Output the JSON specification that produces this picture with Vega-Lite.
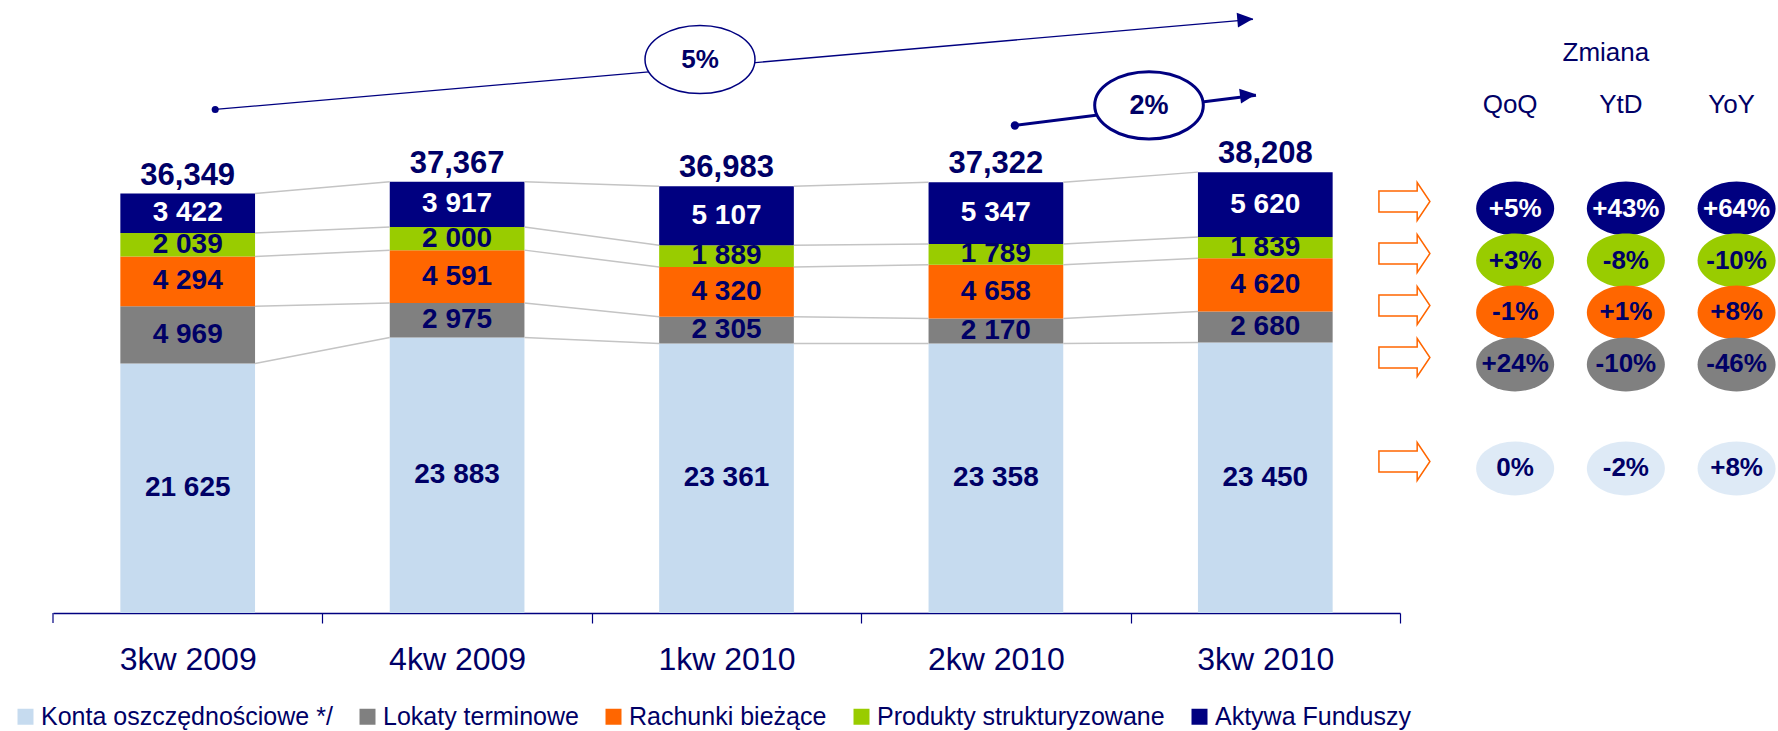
{
  "$schema": "https://vega.github.io/schema/vega-lite/v6.json",
  "background": "white",
  "padding": {"left": 13, "top": 12, "right": 0, "bottom": 0},
  "spacing": 0,
  "bounds": "flush",
  "config": {
    "font": "Liberation Sans",
    "view": {"stroke": null},
    "legend": {
      "orient": "none", "legendX": -40, "legendY": 691, "direction": "horizontal",
      "labelFont": "Liberation Sans", "labelFontSize": 25, "labelColor": "#000066",
      "labelOffset": 3, "symbolType": "square", "symbolSize": 256, "symbolStrokeWidth": 0,
      "columnPadding": 22, "padding": 0, "labelLimit": 0
    }
  },
  "datasets": {
    "stock": [
      {"q": "3kw 2009", "cat": "Konta oszczędnościowe */", "value": 21625, "ord": 1},
      {"q": "3kw 2009", "cat": "Lokaty terminowe", "value": 4969, "ord": 2},
      {"q": "3kw 2009", "cat": "Rachunki bieżące", "value": 4294, "ord": 3},
      {"q": "3kw 2009", "cat": "Produkty strukturyzowane", "value": 2039, "ord": 4},
      {"q": "3kw 2009", "cat": "Aktywa Funduszy", "value": 3422, "ord": 5},
      {"q": "4kw 2009", "cat": "Konta oszczędnościowe */", "value": 23883, "ord": 1},
      {"q": "4kw 2009", "cat": "Lokaty terminowe", "value": 2975, "ord": 2},
      {"q": "4kw 2009", "cat": "Rachunki bieżące", "value": 4591, "ord": 3},
      {"q": "4kw 2009", "cat": "Produkty strukturyzowane", "value": 2000, "ord": 4},
      {"q": "4kw 2009", "cat": "Aktywa Funduszy", "value": 3917, "ord": 5},
      {"q": "1kw 2010", "cat": "Konta oszczędnościowe */", "value": 23361, "ord": 1},
      {"q": "1kw 2010", "cat": "Lokaty terminowe", "value": 2305, "ord": 2},
      {"q": "1kw 2010", "cat": "Rachunki bieżące", "value": 4320, "ord": 3},
      {"q": "1kw 2010", "cat": "Produkty strukturyzowane", "value": 1889, "ord": 4},
      {"q": "1kw 2010", "cat": "Aktywa Funduszy", "value": 5107, "ord": 5},
      {"q": "2kw 2010", "cat": "Konta oszczędnościowe */", "value": 23358, "ord": 1},
      {"q": "2kw 2010", "cat": "Lokaty terminowe", "value": 2170, "ord": 2},
      {"q": "2kw 2010", "cat": "Rachunki bieżące", "value": 4658, "ord": 3},
      {"q": "2kw 2010", "cat": "Produkty strukturyzowane", "value": 1789, "ord": 4},
      {"q": "2kw 2010", "cat": "Aktywa Funduszy", "value": 5347, "ord": 5},
      {"q": "3kw 2010", "cat": "Konta oszczędnościowe */", "value": 23450, "ord": 1},
      {"q": "3kw 2010", "cat": "Lokaty terminowe", "value": 2680, "ord": 2},
      {"q": "3kw 2010", "cat": "Rachunki bieżące", "value": 4620, "ord": 3},
      {"q": "3kw 2010", "cat": "Produkty strukturyzowane", "value": 1839, "ord": 4},
      {"q": "3kw 2010", "cat": "Aktywa Funduszy", "value": 5620, "ord": 5}
    ],
    "totals": [
      {"q": "3kw 2009", "total": 36349},
      {"q": "4kw 2009", "total": 37367},
      {"q": "1kw 2010", "total": 36983},
      {"q": "2kw 2010", "total": 37322},
      {"q": "3kw 2010", "total": 38208}
    ],
    "links": [
      {"from": "3kw 2009", "to": "4kw 2009", "v1": 21625, "v2": 23883},
      {"from": "3kw 2009", "to": "4kw 2009", "v1": 26594, "v2": 26858},
      {"from": "3kw 2009", "to": "4kw 2009", "v1": 30888, "v2": 31449},
      {"from": "3kw 2009", "to": "4kw 2009", "v1": 32927, "v2": 33449},
      {"from": "3kw 2009", "to": "4kw 2009", "v1": 36349, "v2": 37366},
      {"from": "4kw 2009", "to": "1kw 2010", "v1": 23883, "v2": 23361},
      {"from": "4kw 2009", "to": "1kw 2010", "v1": 26858, "v2": 25666},
      {"from": "4kw 2009", "to": "1kw 2010", "v1": 31449, "v2": 29986},
      {"from": "4kw 2009", "to": "1kw 2010", "v1": 33449, "v2": 31875},
      {"from": "4kw 2009", "to": "1kw 2010", "v1": 37366, "v2": 36982},
      {"from": "1kw 2010", "to": "2kw 2010", "v1": 23361, "v2": 23358},
      {"from": "1kw 2010", "to": "2kw 2010", "v1": 25666, "v2": 25528},
      {"from": "1kw 2010", "to": "2kw 2010", "v1": 29986, "v2": 30186},
      {"from": "1kw 2010", "to": "2kw 2010", "v1": 31875, "v2": 31975},
      {"from": "1kw 2010", "to": "2kw 2010", "v1": 36982, "v2": 37322},
      {"from": "2kw 2010", "to": "3kw 2010", "v1": 23358, "v2": 23450},
      {"from": "2kw 2010", "to": "3kw 2010", "v1": 25528, "v2": 26130},
      {"from": "2kw 2010", "to": "3kw 2010", "v1": 30186, "v2": 30750},
      {"from": "2kw 2010", "to": "3kw 2010", "v1": 31975, "v2": 32589},
      {"from": "2kw 2010", "to": "3kw 2010", "v1": 37322, "v2": 38209}
    ],
    "growth": [
      {"label": "5%", "from": "3kw 2009", "to": "3kw 2010", "at": "1kw 2010", "start": 43640, "end": 51450, "mid": 47970},
      {"label": "2%", "from": "2kw 2010", "to": "3kw 2010", "at": "3kw 2010", "start": 42250, "end": 44880, "mid": 44000}
    ],
    "changes": [
      {"col": "QoQ", "cat": "Aktywa Funduszy", "label": "+5%"},
      {"col": "QoQ", "cat": "Produkty strukturyzowane", "label": "+3%"},
      {"col": "QoQ", "cat": "Rachunki bieżące", "label": "-1%"},
      {"col": "QoQ", "cat": "Lokaty terminowe", "label": "+24%"},
      {"col": "QoQ", "cat": "Konta oszczędnościowe */", "label": "0%"},
      {"col": "YtD", "cat": "Aktywa Funduszy", "label": "+43%"},
      {"col": "YtD", "cat": "Produkty strukturyzowane", "label": "-8%"},
      {"col": "YtD", "cat": "Rachunki bieżące", "label": "+1%"},
      {"col": "YtD", "cat": "Lokaty terminowe", "label": "-10%"},
      {"col": "YtD", "cat": "Konta oszczędnościowe */", "label": "-2%"},
      {"col": "YoY", "cat": "Aktywa Funduszy", "label": "+64%"},
      {"col": "YoY", "cat": "Produkty strukturyzowane", "label": "-10%"},
      {"col": "YoY", "cat": "Rachunki bieżące", "label": "+8%"},
      {"col": "YoY", "cat": "Lokaty terminowe", "label": "-46%"},
      {"col": "YoY", "cat": "Konta oszczędnościowe */", "label": "+8%"}
    ]
  },
  "hconcat": [
    {
      "width": 1347,
      "height": 600,
      "layer": [
        {
          "data": {"name": "stock"},
          "mark": {"type": "bar"},
          "encoding": {
            "x": {
              "field": "q", "type": "nominal", "title": null,
              "scale": {"domain": ["3kw 2009", "4kw 2009", "1kw 2010", "2kw 2010", "3kw 2010"], "paddingInner": 0.5, "paddingOuter": 0.25},
              "axis": {
                "labelFont": "Liberation Sans", "labelFontSize": 32, "labelColor": "#000066", "labelPadding": 21,
                "labelAngle": 0, "domainColor": "#000080", "domainWidth": 1.5, "tickColor": "#000080",
                "tickWidth": 1.2, "tickSize": 10, "tickBand": "center", "tickOffset": 134.7, "labelOffset": -134.7, "grid": false
              }
            },
            "y": {"field": "value", "type": "quantitative", "stack": "zero", "axis": null, "scale": {"domain": [0, 52000], "nice": false, "zero": true}},
            "color": {
              "field": "cat", "type": "nominal", "title": null,
              "scale": {
                "domain": ["Konta oszczędnościowe */", "Lokaty terminowe", "Rachunki bieżące", "Produkty strukturyzowane", "Aktywa Funduszy"],
                "range": ["#C6DBEF", "#808080", "#FF6600", "#99CC00", "#000080"]
              }
            },
            "order": {"field": "ord", "type": "quantitative"}
          }
        },
        {
          "data": {"values": [{"q": "3kw 2009"}]},
          "mark": {"type": "rule", "color": "#000080", "strokeWidth": 1.2, "xOffset": -134.7, "y2Offset": 10},
          "encoding": {
            "x": {"field": "q", "type": "nominal", "title": null},
            "y": {"datum": 0, "type": "quantitative", "axis": null},
            "y2": {"datum": 0}
          }
        },
        {
          "data": {"name": "links"},
          "mark": {"type": "rule", "color": "#C4C4C4", "strokeWidth": 1.5, "xOffset": 67.35, "x2Offset": -67.35},
          "encoding": {
            "x": {"field": "from", "type": "nominal", "title": null},
            "x2": {"field": "to"},
            "y": {"field": "v1", "type": "quantitative", "axis": null},
            "y2": {"field": "v2"}
          }
        },
        {
          "data": {"name": "stock"},
          "mark": {"type": "text", "font": "Liberation Sans", "fontSize": 28, "fontWeight": "bold", "baseline": "middle",
                   "text": {"expr": "replace(format(datum.value, ','), ',', ' ')"}},
          "encoding": {
            "x": {"field": "q", "type": "nominal", "title": null},
            "y": {"field": "value", "type": "quantitative", "stack": "zero", "bandPosition": 0.5, "axis": null},
            "detail": {"field": "cat", "type": "nominal"},
            "order": {"field": "ord", "type": "quantitative"},
            "color": {"condition": {"test": "datum.cat === 'Aktywa Funduszy'", "value": "#FFFFFF"}, "value": "#000066"}
          }
        },
        {
          "data": {"name": "totals"},
          "mark": {"type": "text", "font": "Liberation Sans", "fontSize": 31, "fontWeight": "bold", "baseline": "alphabetic", "dy": -9,
                   "color": "#000066", "text": {"expr": "format(datum.total, ',')"}},
          "encoding": {
            "x": {"field": "q", "type": "nominal", "title": null},
            "y": {"field": "total", "type": "quantitative", "axis": null}
          }
        },
        {
          "data": {"name": "growth"},
          "transform": [{"filter": "datum.label === '5%'"}],
          "layer": [
            {
              "mark": {"type": "rule", "color": "#000080", "strokeWidth": 1.3, "xOffset": 27.5, "x2Offset": -12.3},
              "encoding": {
                "x": {"field": "from", "type": "nominal", "title": null},
                "x2": {"field": "to"},
                "y": {"field": "start", "type": "quantitative", "axis": null},
                "y2": {"field": "end"}
              }
            },
            {
              "mark": {"type": "point", "shape": "circle", "filled": true, "size": 50, "color": "#000080", "opacity": 1, "xOffset": 27.5},
              "encoding": {
                "x": {"field": "from", "type": "nominal", "title": null},
                "y": {"field": "start", "type": "quantitative", "axis": null}
              }
            },
            {
              "mark": {"type": "point", "shape": "M1,0L-1,-0.92L-1,0.92Z", "filled": true, "size": 256, "color": "#000080", "opacity": 1, "angle": -5, "xOffset": -20},
              "encoding": {
                "x": {"field": "to", "type": "nominal", "title": null},
                "y": {"field": "end", "type": "quantitative", "axis": null}
              }
            },
            {
              "mark": {"type": "point", "shape": "M-1,0C-1,-0.342,-0.552,-0.62,0,-0.62C0.552,-0.62,1,-0.342,1,0C1,0.342,0.552,0.62,0,0.62C-0.552,0.62,-1,0.342,-1,0Z",
                       "filled": true, "fill": "#FFFFFF", "stroke": "#000080", "strokeWidth": 1.5, "opacity": 1, "size": 12100, "xOffset": -26.5},
              "encoding": {
                "x": {"field": "at", "type": "nominal", "title": null},
                "y": {"field": "mid", "type": "quantitative", "axis": null}
              }
            },
            {
              "mark": {"type": "text", "font": "Liberation Sans", "fontSize": 26, "fontWeight": "bold", "baseline": "middle", "color": "#000066", "xOffset": -26.5},
              "encoding": {
                "x": {"field": "at", "type": "nominal", "title": null},
                "y": {"field": "mid", "type": "quantitative", "axis": null},
                "text": {"field": "label"}
              }
            }
          ]
        },
        {
          "data": {"name": "growth"},
          "transform": [{"filter": "datum.label === '2%'"}],
          "layer": [
            {
              "mark": {"type": "rule", "color": "#000080", "strokeWidth": 3, "xOffset": 19, "x2Offset": -9.3},
              "encoding": {
                "x": {"field": "from", "type": "nominal", "title": null},
                "x2": {"field": "to"},
                "y": {"field": "start", "type": "quantitative", "axis": null},
                "y2": {"field": "end"}
              }
            },
            {
              "mark": {"type": "point", "shape": "circle", "filled": true, "size": 70, "color": "#000080", "opacity": 1, "xOffset": 19},
              "encoding": {
                "x": {"field": "from", "type": "nominal", "title": null},
                "y": {"field": "start", "type": "quantitative", "axis": null}
              }
            },
            {
              "mark": {"type": "point", "shape": "M1,0L-1,-0.92L-1,0.92Z", "filled": true, "size": 256, "color": "#000080", "opacity": 1, "angle": -7.2, "xOffset": -17.3},
              "encoding": {
                "x": {"field": "to", "type": "nominal", "title": null},
                "y": {"field": "end", "type": "quantitative", "axis": null}
              }
            },
            {
              "mark": {"type": "point", "shape": "M-1,0C-1,-0.342,-0.552,-0.62,0,-0.62C0.552,-0.62,1,-0.342,1,0C1,0.342,0.552,0.62,0,0.62C-0.552,0.62,-1,0.342,-1,0Z",
                       "filled": true, "fill": "#FFFFFF", "stroke": "#000080", "strokeWidth": 3, "opacity": 1, "size": 11800, "xOffset": -116.3},
              "encoding": {
                "x": {"field": "at", "type": "nominal", "title": null},
                "y": {"field": "mid", "type": "quantitative", "axis": null}
              }
            },
            {
              "mark": {"type": "text", "font": "Liberation Sans", "fontSize": 27, "fontWeight": "bold", "baseline": "middle", "color": "#000066", "xOffset": -116.3, "dy": 1},
              "encoding": {
                "x": {"field": "at", "type": "nominal", "title": null},
                "y": {"field": "mid", "type": "quantitative", "axis": null},
                "text": {"field": "label"}
              }
            }
          ]
        }
      ]
    },
    {
      "width": 341,
      "height": 495,
      "layer": [
        {
          "data": {"name": "changes"},
          "mark": {"type": "point", "shape": "M-1,0C-1,-0.381,-0.552,-0.69,0,-0.69C0.552,-0.69,1,-0.381,1,0C1,0.381,0.552,0.69,0,0.69C-0.552,0.69,-1,0.381,-1,0Z",
                   "filled": true, "size": 6084, "opacity": 1},
          "encoding": {
            "x": {"field": "col", "type": "nominal", "axis": null, "scale": {"type": "point", "domain": ["arrow", "QoQ", "YtD", "YoY"], "padding": 0.04}},
            "y": {"field": "cat", "type": "nominal", "axis": null,
                  "scale": {"type": "point", "padding": 0.76,
                            "domain": ["Zmiana", "header", "g1", "Aktywa Funduszy", "Produkty strukturyzowane", "Rachunki bieżące", "Lokaty terminowe", "g2", "Konta oszczędnościowe */"]}},
            "color": {
              "field": "cat", "type": "nominal", "title": null,
              "scale": {
                "domain": ["Konta oszczędnościowe */", "Lokaty terminowe", "Rachunki bieżące", "Produkty strukturyzowane", "Aktywa Funduszy"],
                "range": ["#C6DBEF", "#808080", "#FF6600", "#99CC00", "#000080"]
              }
            },
            "fillOpacity": {"condition": {"test": "datum.cat === 'Konta oszczędnościowe */'", "value": 0.58}, "value": 1}
          }
        },
        {
          "data": {"name": "changes"},
          "transform": [{"filter": "datum.col === 'QoQ'"}],
          "mark": {"type": "point", "shape": "M-1,-0.41L0.5,-0.41L0.5,-0.745L1,0L0.5,0.745L0.5,0.41L-1,0.41Z",
                   "filled": true, "fill": "#FFFFFF", "stroke": "#FF6600", "strokeWidth": 1.5, "opacity": 1, "size": 2601, "yOffset": -7},
          "encoding": {
            "x": {"datum": "arrow", "type": "nominal", "axis": null},
            "y": {"field": "cat", "type": "nominal", "axis": null}
          }
        },
        {
          "data": {"name": "changes"},
          "mark": {"type": "text", "font": "Liberation Sans", "fontSize": 26, "fontWeight": "bold", "baseline": "middle"},
          "encoding": {
            "x": {"field": "col", "type": "nominal", "axis": null},
            "y": {"field": "cat", "type": "nominal", "axis": null},
            "text": {"field": "label"},
            "color": {"condition": {"test": "datum.cat === 'Aktywa Funduszy'", "value": "#FFFFFF"}, "value": "#000066"}
          }
        },
        {
          "data": {"values": [{"h": "QoQ"}, {"h": "YtD"}, {"h": "YoY"}]},
          "mark": {"type": "text", "font": "Liberation Sans", "fontSize": 26, "baseline": "middle", "color": "#000066", "xOffset": -5},
          "encoding": {
            "x": {"field": "h", "type": "nominal", "axis": null},
            "y": {"datum": "header", "type": "nominal", "axis": null},
            "text": {"field": "h"}
          }
        },
        {
          "data": {"values": [{"t": "Zmiana"}]},
          "mark": {"type": "text", "font": "Liberation Sans", "fontSize": 26, "baseline": "middle", "color": "#000066", "xOffset": -20},
          "encoding": {
            "x": {"datum": "YtD", "type": "nominal", "axis": null},
            "y": {"datum": "Zmiana", "type": "nominal", "axis": null},
            "text": {"field": "t"}
          }
        }
      ]
    }
  ]
}
